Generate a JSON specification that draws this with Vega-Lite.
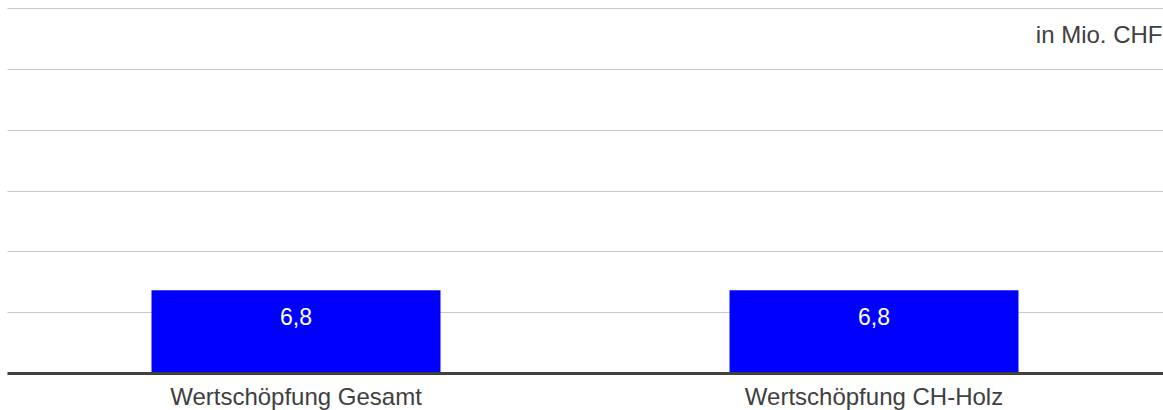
{
  "$schema": "https://vega.github.io/schema/vega-lite/v6.json",
  "width": 1156,
  "height": 365,
  "autosize": "none",
  "padding": {"left": 7, "top": 8, "right": 0, "bottom": 37},
  "background": "white",
  "config": {
    "view": {"stroke": null},
    "locale": {"number": {"decimal": ",", "thousands": "'", "grouping": [3], "currency": ["CHF ", ""]}}
  },
  "data": {
    "values": [
      {"kategorie": "Wertschöpfung Gesamt", "wert": 6.8},
      {"kategorie": "Wertschöpfung CH-Holz", "wert": 6.8}
    ]
  },
  "encoding": {
    "x": {
      "field": "kategorie",
      "type": "nominal",
      "sort": null,
      "scale": {"paddingInner": 0.5, "paddingOuter": 0.25},
      "axis": {
        "title": null,
        "labelAngle": 0,
        "labelFont": "Liberation Sans",
        "labelFontSize": 24,
        "labelColor": "#404040",
        "labelBaseline": "top",
        "labelPadding": 12,
        "labelLimit": 0,
        "ticks": false,
        "tickSize": 0,
        "domain": true,
        "domainColor": "#404040",
        "domainWidth": 3,
        "grid": false,
        "zindex": 1
      }
    },
    "y": {
      "field": "wert",
      "type": "quantitative",
      "scale": {"domain": [0, 30], "nice": false},
      "axis": {
        "orient": "right",
        "title": "in Mio. CHF",
        "titleAngle": 0,
        "titleAlign": "right",
        "titleBaseline": "alphabetic",
        "titleX": -1,
        "titleY": 34,
        "titleFont": "Liberation Sans",
        "titleFontSize": 24,
        "titleFontWeight": "normal",
        "titleColor": "#404040",
        "labels": false,
        "ticks": false,
        "domain": false,
        "grid": true,
        "gridColor": "#c8c8c8",
        "gridWidth": 1,
        "values": [0, 5, 10, 15, 20, 25, 30]
      }
    }
  },
  "layer": [
    {"mark": {"type": "bar", "color": "#0000ff"}},
    {
      "mark": {
        "type": "text",
        "color": "white",
        "font": "Liberation Sans",
        "fontSize": 23,
        "baseline": "alphabetic",
        "align": "center",
        "dy": 35
      },
      "encoding": {
        "text": {"field": "wert", "type": "quantitative", "format": ".1f"}
      }
    }
  ]
}
